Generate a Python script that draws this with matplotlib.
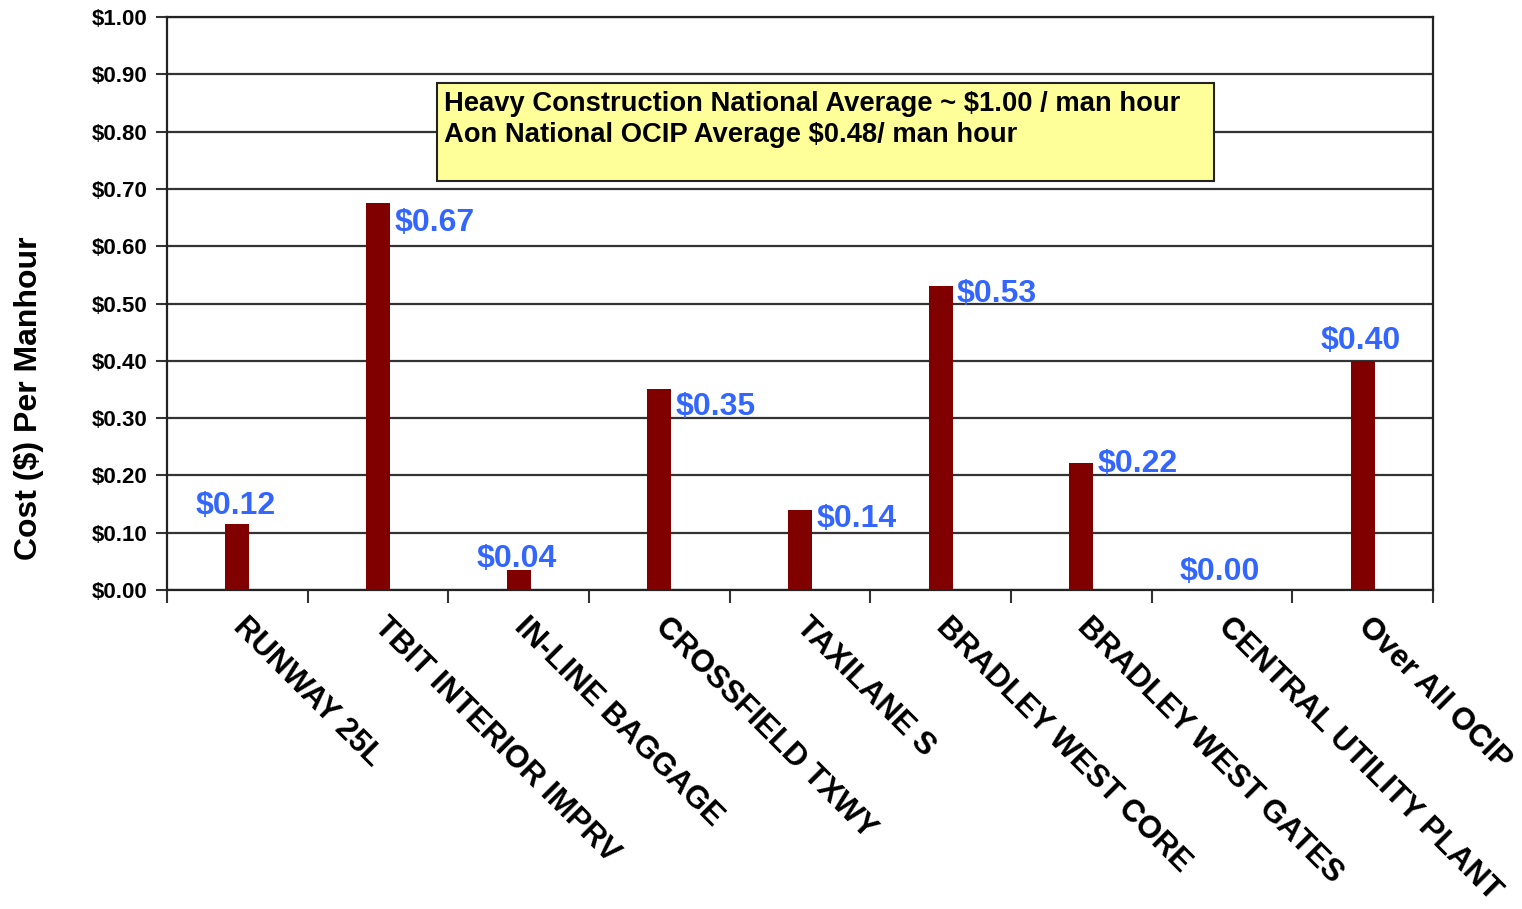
import matplotlib
matplotlib.use("Agg")
import matplotlib.pyplot as plt
from matplotlib.patches import Rectangle
from matplotlib.ticker import FuncFormatter, FixedLocator
import matplotlib.transforms as mtrans
import numpy as np

categories = ["RUNWAY 25L", "TBIT INTERIOR IMPRV", "IN-LINE BAGGAGE", "CROSSFIELD TXWY",
              "TAXILANE S", "BRADLEY WEST CORE", "BRADLEY WEST GATES",
              "CENTRAL UTILITY PLANT", "Over All OCIP"]
values = [0.115, 0.675, 0.035, 0.35, 0.14, 0.53, 0.222, 0.0, 0.40]
value_labels = ["$0.12", "$0.67", "$0.04", "$0.35", "$0.14", "$0.53", "$0.22", "$0.00", "$0.40"]
y_ticks = [0.0, 0.1, 0.2, 0.3, 0.4, 0.5, 0.6, 0.7, 0.8, 0.9, 1.0]
note_lines = ["Heavy Construction National Average ~ $1.00 / man hour",
              "Aon National OCIP Average $0.48/ man hour"]
y_title = "Cost ($) Per Manhour"

# label placement style (side of bar, vertical pixel shift of label centre)
label_side = ["above", "right", "above", "right", "right", "right", "right", "above", "above"]
label_dy_px = [18, -20, 11, -18, -9, -8, -1, 18, 20]

plt.rcParams['font.family'] = ['Liberation Sans', 'DejaVu Sans']

fig = plt.figure(figsize=(15.22, 9.09), dpi=100)
ax = fig.add_axes([167/1522, 1-590/909, (1433-167)/1522, (590-17)/909])

x = np.arange(len(categories))
bw = 0.172
ax.bar(x, values, width=bw, color="#800000", zorder=3)

ax.set_xlim(-0.5, len(categories) - 0.5)
ax.set_ylim(0, 1.0)
ax.set_yticks(y_ticks)
ax.yaxis.set_major_formatter(FuncFormatter(lambda v, p: f"${v:.2f}"))
ax.yaxis.grid(True, color="#333333", linewidth=1.6, zorder=0)
ax.set_axisbelow(True)
ax.tick_params(axis='y', direction='out', length=8, width=1.5, color='#333333',
               labelsize=16, pad=6)
for lab in ax.get_yticklabels():
    lab.set_fontweight('bold')

ax.set_xticks(x)
ax.set_xticklabels(categories, rotation=-45, ha='left', va='top',
                   rotation_mode='anchor', fontsize=22.4, fontweight='bold')
ax.tick_params(axis='x', which='major', length=0, pad=16)
ax.xaxis.set_minor_locator(FixedLocator(np.arange(-0.5, len(categories), 1.0)))
ax.tick_params(axis='x', which='minor', direction='out', length=9, width=1.5, color='#333333')
off = mtrans.ScaledTranslation(11/100, 0, fig.dpi_scale_trans)
for lab in ax.get_xticklabels():
    lab.set_transform(lab.get_transform() + off)

for s in ax.spines.values():
    s.set_color('#222222')
    s.set_linewidth(1.6)

ax.set_ylabel(y_title, fontsize=23, fontweight='bold')
ax.yaxis.set_label_coords(-0.097, 0.335)

for xi, v, lab, side, dy in zip(x, values, value_labels, label_side, label_dy_px):
    if side == "above":
        ax.annotate(lab, xy=(xi, v), xytext=(-2, dy), textcoords='offset pixels',
                    ha='center', va='center', fontsize=23, fontweight='bold',
                    color='#3366FF', zorder=5)
    else:
        ax.annotate(lab, xy=(xi + bw/2, v), xytext=(4, dy), textcoords='offset pixels',
                    ha='left', va='center', fontsize=23, fontweight='bold',
                    color='#3366FF', zorder=5)

box = Rectangle((0.2133, 0.7138), 0.827 - 0.2133, 0.8848 - 0.7138, transform=ax.transAxes,
                facecolor='#FFFF99', edgecolor='#222222', linewidth=1.5, zorder=4)
ax.add_patch(box)
ax.text(0.2185, 0.870, "\n".join(note_lines), transform=ax.transAxes, ha='left', va='top',
        fontsize=19.7, fontweight='bold', color='black', linespacing=1.25, zorder=5)

fig.savefig("out.png", dpi=100)
